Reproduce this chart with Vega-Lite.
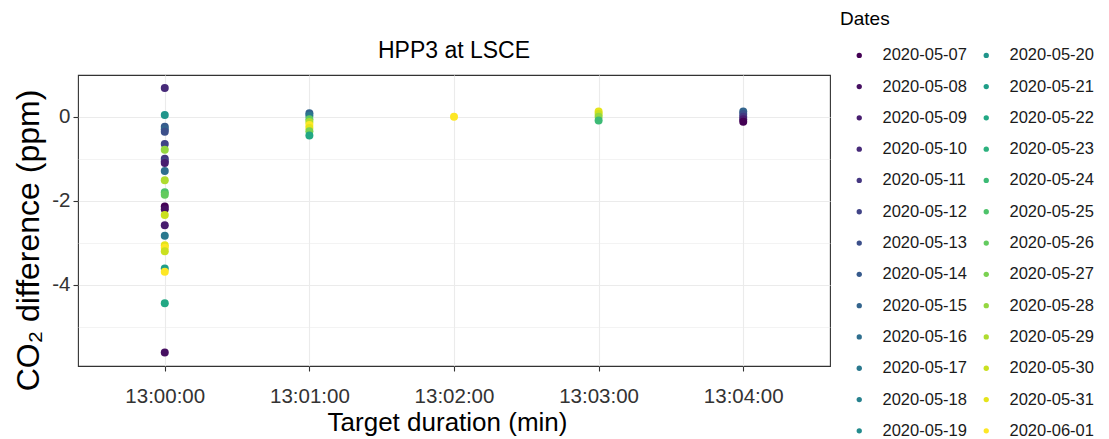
{
  "$schema": "https://vega.github.io/schema/vega-lite/v6.json",
  "width": 752,
  "height": 291,
  "autosize": {"type": "none"},
  "padding": {"left": 78, "top": 75, "right": 279, "bottom": 73},
  "background": "white",
  "config": {
    "font": "Liberation Sans",
    "view": {"stroke": "#333333", "strokeWidth": 1.1, "fill": "white"}
  },
  "title": {
    "text": "HPP3 at LSCE",
    "fontSize": 23,
    "fontWeight": "normal",
    "color": "#000000",
    "anchor": "middle",
    "frame": "group",
    "offset": 14,
    "dy": 67
  },
  "data": {
    "values": [
      {"duration": "13:00:00", "diff": 0.68, "date": "2020-05-10"},
      {"duration": "13:00:00", "diff": 0.04, "date": "2020-05-20"},
      {"duration": "13:00:00", "diff": -0.24, "date": "2020-05-14"},
      {"duration": "13:00:00", "diff": -0.30, "date": "2020-05-15"},
      {"duration": "13:00:00", "diff": -0.36, "date": "2020-05-13"},
      {"duration": "13:00:00", "diff": -0.65, "date": "2020-05-12"},
      {"duration": "13:00:00", "diff": -0.79, "date": "2020-05-28"},
      {"duration": "13:00:00", "diff": -1.00, "date": "2020-05-11"},
      {"duration": "13:00:00", "diff": -1.06, "date": "2020-05-12"},
      {"duration": "13:00:00", "diff": -1.10, "date": "2020-05-09"},
      {"duration": "13:00:00", "diff": -1.29, "date": "2020-05-16"},
      {"duration": "13:00:00", "diff": -1.51, "date": "2020-05-29"},
      {"duration": "13:00:00", "diff": -1.80, "date": "2020-05-25"},
      {"duration": "13:00:00", "diff": -1.86, "date": "2020-05-26"},
      {"duration": "13:00:00", "diff": -2.14, "date": "2020-05-07"},
      {"duration": "13:00:00", "diff": -2.20, "date": "2020-05-08"},
      {"duration": "13:00:00", "diff": -2.34, "date": "2020-05-30"},
      {"duration": "13:00:00", "diff": -2.58, "date": "2020-05-09"},
      {"duration": "13:00:00", "diff": -2.83, "date": "2020-05-17"},
      {"duration": "13:00:00", "diff": -3.06, "date": "2020-05-31"},
      {"duration": "13:00:00", "diff": -3.12, "date": "2020-06-01"},
      {"duration": "13:00:00", "diff": -3.20, "date": "2020-05-30"},
      {"duration": "13:00:00", "diff": -3.61, "date": "2020-05-21"},
      {"duration": "13:00:00", "diff": -3.69, "date": "2020-06-01"},
      {"duration": "13:00:00", "diff": -4.44, "date": "2020-05-22"},
      {"duration": "13:00:00", "diff": -5.61, "date": "2020-05-08"},
      {"duration": "13:01:00", "diff": 0.08, "date": "2020-05-15"},
      {"duration": "13:01:00", "diff": 0.02, "date": "2020-05-17"},
      {"duration": "13:01:00", "diff": -0.06, "date": "2020-05-26"},
      {"duration": "13:01:00", "diff": -0.13, "date": "2020-05-29"},
      {"duration": "13:01:00", "diff": -0.20, "date": "2020-06-01"},
      {"duration": "13:01:00", "diff": -0.27, "date": "2020-05-31"},
      {"duration": "13:01:00", "diff": -0.35, "date": "2020-05-27"},
      {"duration": "13:01:00", "diff": -0.45, "date": "2020-05-22"},
      {"duration": "13:02:00", "diff": 0.0, "date": "2020-06-01"},
      {"duration": "13:03:00", "diff": 0.12, "date": "2020-05-31"},
      {"duration": "13:03:00", "diff": 0.06, "date": "2020-05-30"},
      {"duration": "13:03:00", "diff": 0.0, "date": "2020-05-28"},
      {"duration": "13:03:00", "diff": -0.09, "date": "2020-05-24"},
      {"duration": "13:04:00", "diff": 0.12, "date": "2020-05-15"},
      {"duration": "13:04:00", "diff": 0.06, "date": "2020-05-13"},
      {"duration": "13:04:00", "diff": 0.0, "date": "2020-05-11"},
      {"duration": "13:04:00", "diff": -0.06, "date": "2020-05-09"},
      {"duration": "13:04:00", "diff": -0.12, "date": "2020-05-07"}
    ]
  },
  "mark": {"type": "circle", "size": 64, "opacity": 1},
  "encoding": {
    "x": {
      "field": "duration",
      "type": "ordinal",
      "scale": {"type": "point", "padding": 0.6},
      "axis": {
        "title": "Target duration (min)",
        "titleFontSize": 26,
        "titleFontWeight": "normal",
        "titleColor": "#000000",
        "titlePadding": 3,
        "titleX": 369,
        "labelAngle": 0,
        "labelFontSize": 20.5,
        "labelColor": "#333333",
        "labelPadding": 15,
        "tickSize": 5,
        "tickColor": "#333333",
        "tickWidth": 1.1,
        "domain": false,
        "grid": true,
        "gridColor": "#EBEBEB",
        "gridWidth": 1.1
      }
    },
    "y": {
      "field": "diff",
      "type": "quantitative",
      "scale": {"domain": [-5.93, 0.99], "nice": false, "zero": false},
      "axis": {
        "title": "CO₂ difference (ppm)",
        "titleFontSize": 32,
        "titleFontWeight": "normal",
        "titleColor": "#000000",
        "titlePadding": 6,
        "titleY": 165,
        "values": [-5, -4, -3, -2, -1, 0],
        "labelExpr": "datum.value % 2 == 0 ? '' + datum.value : ''",
        "labelFontSize": 20.5,
        "labelColor": "#333333",
        "labelPadding": 3,
        "tickSize": 5,
        "tickColor": "#333333",
        "tickWidth": 1.1,
        "tickOpacity": {"condition": {"test": "datum.value % 2 != 0", "value": 0}, "value": 1},
        "domain": false,
        "grid": true,
        "gridColor": "#EBEBEB",
        "gridWidth": {"condition": {"test": "datum.value % 2 != 0", "value": 0.6}, "value": 1.1}
      }
    },
    "color": {
      "field": "date",
      "type": "nominal",
      "scale": {
        "domain": ["2020-05-07","2020-05-08","2020-05-09","2020-05-10","2020-05-11","2020-05-12","2020-05-13","2020-05-14","2020-05-15","2020-05-16","2020-05-17","2020-05-18","2020-05-19","2020-05-20","2020-05-21","2020-05-22","2020-05-23","2020-05-24","2020-05-25","2020-05-26","2020-05-27","2020-05-28","2020-05-29","2020-05-30","2020-05-31","2020-06-01"],
        "range": ["#440154","#460F61","#481D6F","#472A79","#453781","#414487","#3C4F8A","#375A8C","#33648D","#2E6E8E","#2A788E","#27818E","#238B8D","#20958B","#1F9E88","#22A884","#2CB17E","#3CBA75","#4EC36A","#63CB5F","#7AD151","#94D740","#AFDC2F","#CAE020","#E5E41A","#FDE725"]
      },
      "legend": {
        "title": "Dates",
        "orient": "none",
        "legendX": 762,
        "legendY": -65,
        "columns": 2,
        "titleFontSize": 19,
        "titleFontWeight": "normal",
        "titleColor": "#000000",
        "titlePadding": 18,
        "symbolType": "circle",
        "symbolSize": 28,
        "symbolStrokeWidth": 0,
        "symbolOpacity": 1,
        "symbolOffset": 11,
        "labelOffset": 15,
        "labelFontSize": 16.5,
        "labelColor": "#1a1a1a",
        "rowPadding": 14.3,
        "columnPadding": -5
      }
    }
  }
}
